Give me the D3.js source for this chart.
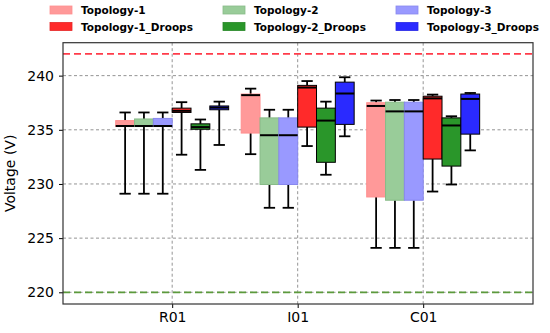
<!DOCTYPE html>
<html>
<head>
<meta charset="utf-8">
<script src="https://cdn.jsdelivr.net/npm/d3@7"></script>
<style>
	body { margin: 0; background: #fff; }
	svg { display: block; font-family: "DejaVu Sans", sans-serif; }
</style>
</head>
<body>
<svg id="chart" width="550" height="333"></svg>
<script>
// categories on the x axis
const categories = ["R01", "I01", "C01"];
const seriesNames = ["Topology-1", "Topology-2", "Topology-3",
	"Topology-1_Droops", "Topology-2_Droops", "Topology-3_Droops"];
const yTicks = [220, 225, 230, 235, 240];
const upperLimit = 242;
const lowerLimit = 220;

// each box: [whisker low, q1, median, q3, whisker high], one per category
const topology1 = [[229.1, 235.3, 235.35, 235.85, 236.6], [232.75, 234.7, 238.2, 238.3, 238.8], [224.1, 228.8, 237.2, 237.5, 237.7]];
const topology2 = [[229.1, 235.3, 235.35, 236.0, 236.6], [227.8, 229.95, 234.5, 236.1, 236.85], [224.1, 228.5, 236.7, 237.55, 237.75]];
const topology3 = [[229.1, 235.3, 235.35, 236.05, 236.6], [227.8, 229.95, 234.5, 236.1, 236.85], [224.1, 228.5, 236.7, 237.55, 237.75]];
const topology1Droops = [[232.7, 236.6, 236.75, 237.0, 237.55], [233.5, 235.25, 238.9, 239.1, 239.5], [229.3, 232.3, 237.9, 238.1, 238.25]];
const topology2Droops = [[231.3, 235.05, 235.25, 235.55, 235.95], [230.85, 232.0, 235.85, 237.0, 237.6], [229.95, 231.65, 235.4, 236.1, 236.25]];
const topology3Droops = [[233.6, 236.85, 237.05, 237.2, 237.6], [234.4, 235.5, 238.35, 239.4, 239.85], [233.1, 234.6, 237.85, 238.3, 238.4]];

const series = [topology1, topology2, topology3, topology1Droops, topology2Droops, topology3Droops];
const fills = ["#ff9999", "#99cc99", "#9999ff", "#ff2a2a", "#2a962a", "#2a2aff"];
const edges = ["#ff8f8f", "#88bb88", "#8888ee", "#000", "#000", "#000"];

let svg = d3.select("#chart");
let margin = { left: 63, right: 17, top: 42.7, bottom: 29 };
let width = 550 - margin.left - margin.right;
let height = 333 - margin.top - margin.bottom;

let g = svg.append("g").attr("transform", `translate(${margin.left},${margin.top})`);

// category i sits at position i+1, like matplotlib boxplot positions
let x = d3.scaleLinear().domain([0.13, 3.875]).range([0, width]);
let y = d3.scaleLinear().domain([218.92, 243.04]).range([height, 0]);
let boxW = 0.15;
let offsets = [-2.5, -1.5, -0.5, 0.5, 1.5, 2.5].map(k => k * boxW);

// grid
g.append("g")
	.selectAll("line")
	.data(yTicks)
	.join("line")
	.attr("x1", 0).attr("x2", width)
	.attr("y1", d => y(d)).attr("y2", d => y(d))
	.attr("stroke", "#888").attr("stroke-width", 0.9).attr("stroke-dasharray", "3,2.5");
g.append("g")
	.selectAll("line")
	.data(categories)
	.join("line")
	.attr("x1", (d, i) => x(i + 1)).attr("x2", (d, i) => x(i + 1))
	.attr("y1", 0).attr("y2", height)
	.attr("stroke", "#888").attr("stroke-width", 0.9).attr("stroke-dasharray", "3,2.5");

// limit lines
g.append("line")
	.attr("x1", 0).attr("x2", width)
	.attr("y1", y(upperLimit)).attr("y2", y(upperLimit))
	.attr("stroke", "#ff3b4a").attr("stroke-width", 1.8).attr("stroke-dasharray", "7,4");
g.append("line")
	.attr("x1", 0).attr("x2", width)
	.attr("y1", y(lowerLimit)).attr("y2", y(lowerLimit))
	.attr("stroke", "#5c9a3c").attr("stroke-width", 1.8).attr("stroke-dasharray", "7,4");

// boxes
series.forEach((s, si) => {
	let grp = g.append("g");
	s.forEach((b, ci) => {
		let cx = x(ci + 1 + offsets[si]);
		let half = (x(boxW) - x(0)) / 2;
		let cap = half * 0.6;
		// whiskers
		grp.append("line")
			.attr("x1", cx).attr("x2", cx)
			.attr("y1", y(b[0])).attr("y2", y(b[1]))
			.attr("stroke", "#000").attr("stroke-width", 1.8);
		grp.append("line")
			.attr("x1", cx).attr("x2", cx)
			.attr("y1", y(b[3])).attr("y2", y(b[4]))
			.attr("stroke", "#000").attr("stroke-width", 1.8);
		[b[0], b[4]].forEach(v => {
			grp.append("line")
				.attr("x1", cx - cap).attr("x2", cx + cap)
				.attr("y1", y(v)).attr("y2", y(v))
				.attr("stroke", "#000").attr("stroke-width", 1.8);
		});
		grp.append("rect")
			.attr("x", cx - half)
			.attr("y", y(b[3]))
			.attr("width", half * 2)
			.attr("height", y(b[1]) - y(b[3]))
			.attr("fill", fills[si])
			.attr("stroke", edges[si])
			.attr("stroke-width", 1);
		grp.append("line")
			.attr("x1", cx - half).attr("x2", cx + half)
			.attr("y1", y(b[2])).attr("y2", y(b[2]))
			.attr("stroke", "#000").attr("stroke-width", 2);
	});
});

// axes
let yAxis = g.append("g")
	.call(d3.axisLeft(y).tickValues(yTicks).tickSize(4).tickPadding(5));
let xAxis = g.append("g")
	.attr("transform", `translate(0,${height})`)
	.call(d3.axisBottom(x).tickValues([1, 2, 3]).tickFormat((d, i) => categories[i]).tickSize(4).tickPadding(4));
[yAxis, xAxis].forEach(a => {
	a.select(".domain").remove();
	a.selectAll("text").style("font-size", "14px").style("font-family", "DejaVu Sans").attr("fill", "#000");
	a.selectAll("line").attr("stroke", "#000").attr("stroke-width", 1);
});

// frame
g.append("rect")
	.attr("width", width).attr("height", height)
	.attr("fill", "none").attr("stroke", "#333").attr("stroke-width", 1.2);

svg.append("text")
	.attr("transform", `translate(15,${margin.top + height / 2}) rotate(-90)`)
	.attr("text-anchor", "middle")
	.style("font-size", "14px")
	.text("Voltage (V)");

// legend, 3 columns x 2 rows
let legend = svg.append("g");
seriesNames.forEach((name, i) => {
	let col = i % 3;
	let row = Math.floor(i / 3);
	let lx = 50 + col * 173;
	let ly = 6 + row * 16.5;
	legend.append("rect")
		.attr("x", lx).attr("y", ly)
		.attr("width", 22).attr("height", 8)
		.attr("fill", fills[i])
		.attr("stroke", i < 3 ? edges[i] : d3.color(fills[i]).darker(0.3))
		.attr("stroke-width", 0.8);
	legend.append("text")
		.attr("x", lx + 31).attr("y", ly + 8)
		.style("font-size", "10.5px")
		.style("font-weight", "bold")
		.text(name);
});
</script>
</body>
</html>
